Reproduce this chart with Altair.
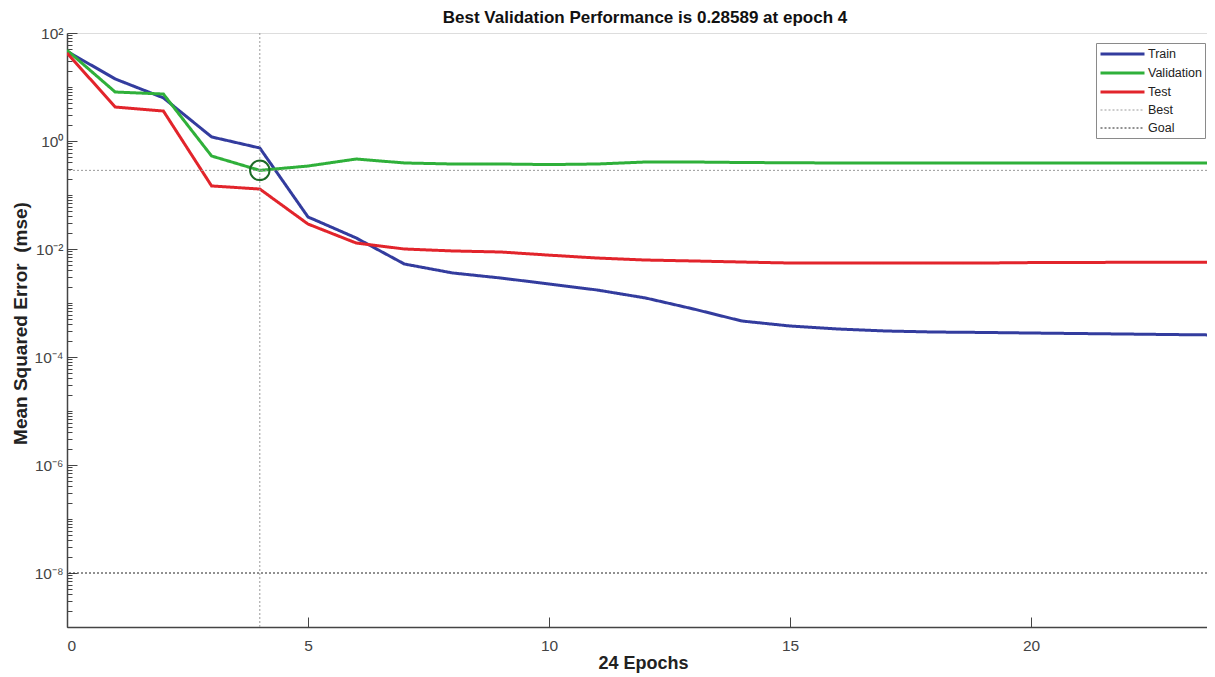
import altair as alt
import pandas as pd

# ---------------- data ----------------
epochs = list(range(25))
train = [46.0, 14.1, 6.3, 1.19, 0.742, 0.0392, 0.016, 0.00527, 0.0036, 0.0029,
         0.00225, 0.00174, 0.00124, 0.000774, 0.000464, 0.000375, 0.00033,
         0.000303, 0.00029, 0.000285, 0.000278, 0.000272, 0.000266, 0.00026, 0.000255]
validation = [48.0, 8.07, 7.41, 0.527, 0.28589, 0.344, 0.464, 0.392, 0.375, 0.375,
              0.366, 0.375, 0.408, 0.408, 0.40, 0.395, 0.392, 0.392, 0.392, 0.392,
              0.392, 0.392, 0.392, 0.392, 0.392]
test = [42.6, 4.26, 3.59, 0.147, 0.129, 0.029, 0.0129, 0.0100, 0.0092, 0.0088,
        0.0077, 0.0068, 0.00625, 0.0060, 0.00574, 0.0055, 0.0055, 0.0055, 0.0055,
        0.0055, 0.0056, 0.0056, 0.0057, 0.0057, 0.0057]
best_epoch = 4
best_perf = 0.28589
goal = 1e-8

series_names = ["Train", "Validation", "Test", "Best", "Goal"]
series_colors = ["#333c9e", "#2fb03a", "#e2242b", "#9a9a9a", "#222222"]
x_ticks = [0, 5, 10, 15, 20]
y_label_ticks = [1e-8, 1e-6, 1e-4, 1e-2, 1, 100]
y_all_ticks = [m * 10.0 ** e for e in range(-9, 2) for m in range(1, 10)] + [100.0]

title_text = "Best Validation Performance is %s at epoch %d" % (best_perf, best_epoch)

# ---------------- tables ----------------
rows = []
for name, vals in (("Train", train), ("Validation", validation), ("Test", test)):
    for e, v in zip(epochs, vals):
        rows.append({"epoch": e, "mse": v, "series": name})
lines_df = pd.DataFrame(rows)
vrule_df = pd.DataFrame({"epoch": [best_epoch], "series": ["Best"]})
hrule_df = pd.DataFrame({"mse": [best_perf, goal], "series": ["Best", "Goal"]})
best_df = pd.DataFrame({"epoch": [best_epoch], "mse": [best_perf]})

W, H = 1140, 594
FONT = "Liberation Sans"

xs = alt.Scale(domain=[0, W / 48.2], nice=False, zero=False)
ys = alt.Scale(type="log", domain=[1e-9, 100], nice=False)
cs = alt.Scale(domain=series_names, range=series_colors)
ds = alt.Scale(domain=series_names, range=[[1, 0], [1, 0], [1, 0], [2, 2], [2, 2]])
ws = alt.Scale(type="ordinal", domain=series_names, range=[3, 3, 3, 1, 1])

leg = alt.Legend(
    title=None, orient="none", legendX=1029, legendY=10,
    symbolType="M-1,0H5.77", symbolSize=169, labelFont=FONT, labelFontSize=12.5,
    labelColor="#222222", strokeColor="#8a8a8a", fillColor="white",
    padding=3, rowPadding=4, labelOffset=33, symbolOffset=0,
)

label_expr = (
    "round(log(datum.value)/LN10) == 2 ? '10²' : "
    "round(log(datum.value)/LN10) == 0 ? '10⁰' : "
    "round(log(datum.value)/LN10) == -2 ? '10⁻²' : "
    "round(log(datum.value)/LN10) == -4 ? '10⁻⁴' : "
    "round(log(datum.value)/LN10) == -6 ? '10⁻⁶' : "
    "round(log(datum.value)/LN10) == -8 ? '10⁻⁸' : ''"
)

x_main = alt.Axis(
    values=x_ticks, ticks=False, tickSize=0, grid=False, labelPadding=11,
    labelFontSize=15.5, labelColor="#444444", labelFont=FONT,
    domainColor="#444444", domainWidth=1.5,
    title="24 Epochs", titleX=576, titleY=41, titleAlign="center",
    titleBaseline="alphabetic", titleFont=FONT, titleFontSize=18,
    titleFontWeight="bold", titleColor="#222222",
)
y_main = alt.Axis(
    values=y_label_ticks, labelExpr=label_expr, ticks=False, tickSize=0,
    grid=False, labelPadding=4, labelFontSize=15.5, labelColor="#444444",
    labelFont=FONT, domainColor="#444444", domainWidth=1.5,
    title="Mean Squared Error \u00a0(mse)", titleX=-41, titleY=290,
    titleAngle=-90, titleAlign="center", titleBaseline="alphabetic",
    titleFont=FONT, titleFontSize=19, titleFontWeight="bold",
    titleColor="#222222",
)
# inward-pointing ticks
x_ticks_axis = alt.Axis(
    orient="top", offset=-H, values=x_ticks, labels=False, domain=False,
    grid=False, tickSize=10, tickColor="#444444", tickWidth=1, title=None,
)
y_ticks_axis = alt.Axis(
    orient="right", offset=-W, values=y_all_ticks, labels=False, domain=False,
    grid=False, tickColor="#444444", tickWidth=1, title=None,
    tickSize={
        "condition": {
            "test": "abs(log(datum.value)/LN10 - round(log(datum.value)/LN10)) < 0.001 && round(log(datum.value)/LN10) % 2 == 0",
            "value": 10,
        },
        "value": 5,
    },
)

lines = alt.Chart(lines_df).mark_line(clip=True).encode(
    x=alt.X("epoch:Q", scale=xs, axis=x_main),
    y=alt.Y("mse:Q", scale=ys, axis=y_main),
    color=alt.Color("series:N", scale=cs, legend=leg),
    strokeDash=alt.StrokeDash("series:N", scale=ds, legend=leg),
    strokeWidth=alt.StrokeWidth("series:N", scale=ws, legend=leg),
)

vrule = alt.Chart(vrule_df).mark_rule().encode(
    x=alt.X("epoch:Q", scale=xs, axis=None),
    color=alt.Color("series:N", scale=cs, legend=leg),
    strokeDash=alt.StrokeDash("series:N", scale=ds, legend=leg),
    strokeWidth=alt.StrokeWidth("series:N", scale=ws, legend=leg),
)

hrule = alt.Chart(hrule_df).mark_rule().encode(
    y=alt.Y("mse:Q", scale=ys, axis=None),
    color=alt.Color("series:N", scale=cs, legend=leg),
    strokeDash=alt.StrokeDash("series:N", scale=ds, legend=leg),
    strokeWidth=alt.StrokeWidth("series:N", scale=ws, legend=leg),
)

circle = alt.Chart(best_df).mark_point(
    shape="circle", size=380, filled=False, stroke="#1d6b26", strokeWidth=2,
    opacity=1,
).encode(
    x=alt.X("epoch:Q", scale=xs, axis=None),
    y=alt.Y("mse:Q", scale=ys, axis=None),
)

tick_layer = alt.Chart(best_df).mark_point(opacity=0).encode(
    x=alt.X("epoch:Q", scale=xs, axis=x_ticks_axis),
    y=alt.Y("mse:Q", scale=ys, axis=y_ticks_axis),
)

chart = alt.layer(lines, vrule, hrule, circle, tick_layer).resolve_axis(
    x="independent", y="independent"
).properties(
    width=W, height=H,
    title=alt.TitleParams(
        title_text, font=FONT, fontSize=17, fontWeight="bold",
        color="#111111", anchor="middle", dx=8, offset=-1,
    ),
    autosize=alt.AutoSizeParams(type="none"),
    padding={"left": 59, "top": 25, "right": 0, "bottom": 46},
).configure_view(strokeWidth=0).configure(background="white")

chart.save("out.html", embed_options={"renderer": "svg", "actions": False})
